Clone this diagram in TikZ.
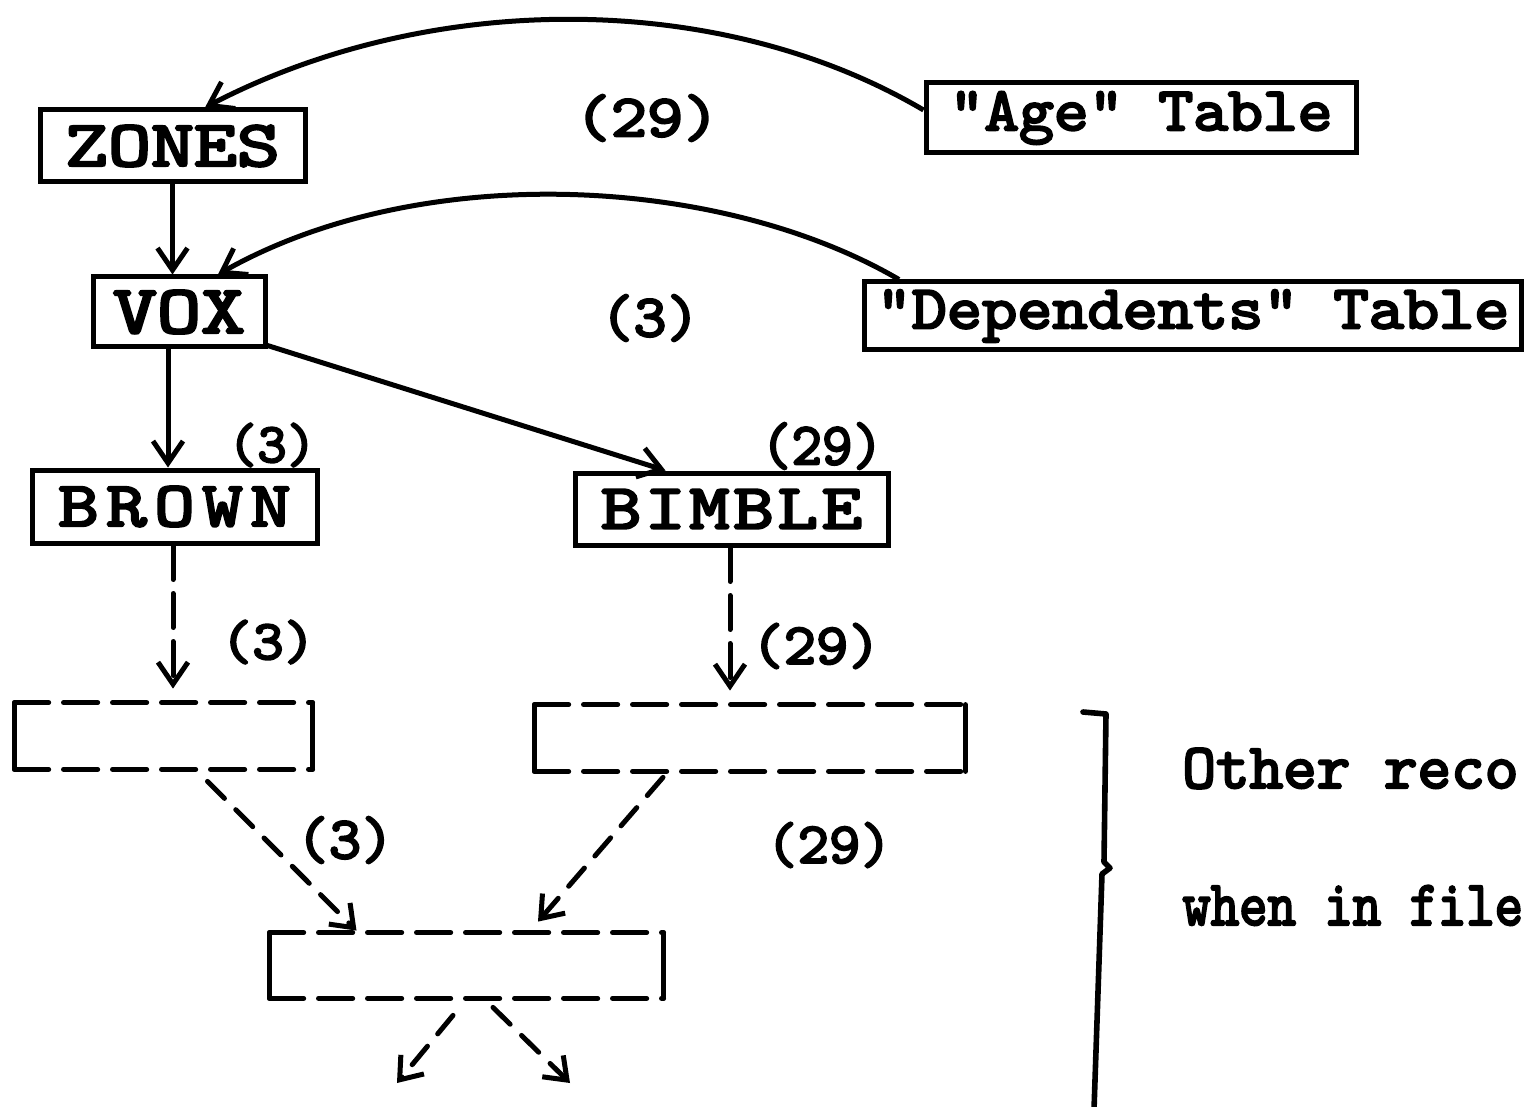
\documentclass[tikz,border=0pt]{standalone}
\usepackage{fontspec}
\usetikzlibrary{arrows.meta,calc}
% typewriter face used for every label
\newfontfamily\tw{lmmono10-regular}[Extension=.otf, FakeBold=3.5]
% \twt{size}{horizontal stretch}{letter spacing}{text}
\newcommand{\twt}[4]{{\fontsize{#1}{#1}\selectfont\tw\addfontfeature{LetterSpace=#3}\scalebox{#2}[1]{#4}}}

\begin{document}
\begin{tikzpicture}[x=0.5pt,y=-0.5pt,
  box/.style={draw, line width=2.5pt, inner sep=0pt},
  rec/.style={inner sep=0pt},
  lbl/.style={inner sep=0pt},
  ln/.style={line width=2.5pt},
  arr/.style={line width=2.5pt, -{Straight Barb[length=11pt,width=15pt,line width=2.5pt]}},
  dashln/.style={line width=2.6pt, line cap=round, dash pattern=on 17pt off 7.5pt},
  darr/.style={line width=2.5pt, line cap=round, dash pattern=on 17pt off 7pt,
    -{Straight Barb[length=11pt,width=15pt,line width=2.5pt]}},
  diag/.style={line width=2.5pt, line cap=round, dash pattern=on 12pt off 8pt,
    -{Straight Barb[length=10pt,width=15pt,line width=2.5pt]}}]
\useasboundingbox (0,0) rectangle (1527,1107);

% record boxes
\node[box, minimum width=132.5pt, minimum height=36pt] (zones) at (172.5,146) {\twt{32.7pt}{1.25}{0}{ZONES}};
\node[box, minimum width=86pt, minimum height=35pt] (vox) at (179,312) {\twt{34.4pt}{1.22}{0}{VOX}};
\node[box, minimum width=215pt, minimum height=35pt] (age) at (1141,118) {\twt{31pt}{1.07}{0}{"Age" Table}};
\node[box, minimum width=328.5pt, minimum height=34pt] (dep) at (1193,316) {\twt{31pt}{1.08}{0}{"Dependents" Table}};
\node[box, minimum width=142.5pt, minimum height=36.5pt] (brown) at (174.5,506.5) {\twt{32pt}{1.2}{10}{BROWN}};
\node[box, minimum width=156.5pt, minimum height=36pt] (bimble) at (731.5,509) {\twt{32pt}{1.2}{5}{BIMBLE}};

% further records, dashed along top and bottom
\node[rec, minimum width=148.5pt, minimum height=33pt] (r1) at (163.5,736) {};
\node[rec, minimum width=215pt, minimum height=33pt] (r2) at (750,738) {};
\node[rec, minimum width=196.5pt, minimum height=32.5pt] (r3) at (466.5,965.5) {};
\foreach \r in {r1,r2,r3}{
  \draw[dashln] (\r.north west) -- (\r.north east);
  \draw[dashln] (\r.south west) -- (\r.south east);
  \draw[ln, line cap=round] (\r.north west) -- (\r.south west);
  \draw[ln, line cap=round] (\r.north east) -- (\r.south east);
}

% counts
\node[lbl] (c1) at (647,118) {\twt{30pt}{1.15}{0}{(29)}};
\node[lbl] (c2) at (650,318) {\twt{30pt}{1.05}{0}{(3)}};
\node[lbl] (c3) at (272,445) {\twt{28pt}{1.0}{0}{(3)}};
\node[lbl] (c4) at (822,446) {\twt{30pt}{0.97}{0}{(29)}};
\node[lbl] (c5) at (268,642) {\twt{28pt}{1.07}{0}{(3)}};
\node[lbl] (c6) at (816,646) {\twt{29pt}{1.06}{0}{(29)}};
\node[lbl] (c7) at (345,840) {\twt{30pt}{1.03}{0}{(3)}};
\node[lbl] (c8) at (829,845) {\twt{29pt}{1.03}{0}{(29)}};

% table links
\draw[arr] ([yshift=4pt]age.west) .. controls (720,-10) and (430,-10) .. ([xshift=16.25pt]zones.north);
\draw[arr] ([xshift=-147pt]dep.north) .. controls (720,175) and (420,160) .. ([xshift=19.5pt]vox.north);

% solid links
\draw[arr] (zones.south) -- (zones.south |- vox.north);
\coordinate (v1) at ([xshift=-5.5pt]vox.south);
\draw[arr] (v1) -- (v1 |- brown.north);
\draw[arr] ([yshift=2pt]vox.south east) -- ([xshift=-33pt]bimble.north);

% dashed links
\coordinate (b1) at ([xshift=-0.75pt]brown.south);
\draw[darr, shorten >=7pt] (b1) -- (b1 |- r1.north);
\coordinate (b2) at ([xshift=-0.75pt]bimble.south);
\draw[darr, shorten >=7pt] (b2) -- (b2 |- r2.north);
\draw[diag] ([shift={(22pt,-6pt)}]r1.south) -- ([shift={(-55pt,1pt)}]r3.north);
\draw[diag] ([shift={(-43.5pt,-3pt)}]r2.south) -- ([shift={(35.75pt,5.5pt)}]r3.north);
\coordinate (o1) at (397,1083);
\coordinate (o2) at (570,1083);
\draw[diag] ([shift={(-6.75pt,-8.5pt)}]r3.south) -- (o1);
\draw[diag] ([shift={(13.25pt,-4.5pt)}]r3.south) -- (o2);

% bracket and note
\draw[line width=2.8pt, line join=round, line cap=round]
  (1083,712) -- (1106,714) -- (1104,862) -- (1110,868) -- (1102,874) -- (1094,1110);
\node[lbl, anchor=base west] (n1) at (1182,788) {\twt{32pt}{1.0}{0}{Other reco}};
\node[lbl, anchor=base west] (n2) at (1182,925) {\twt{32pt}{0.845}{0}{when in file}};
\end{tikzpicture}
\end{document}
